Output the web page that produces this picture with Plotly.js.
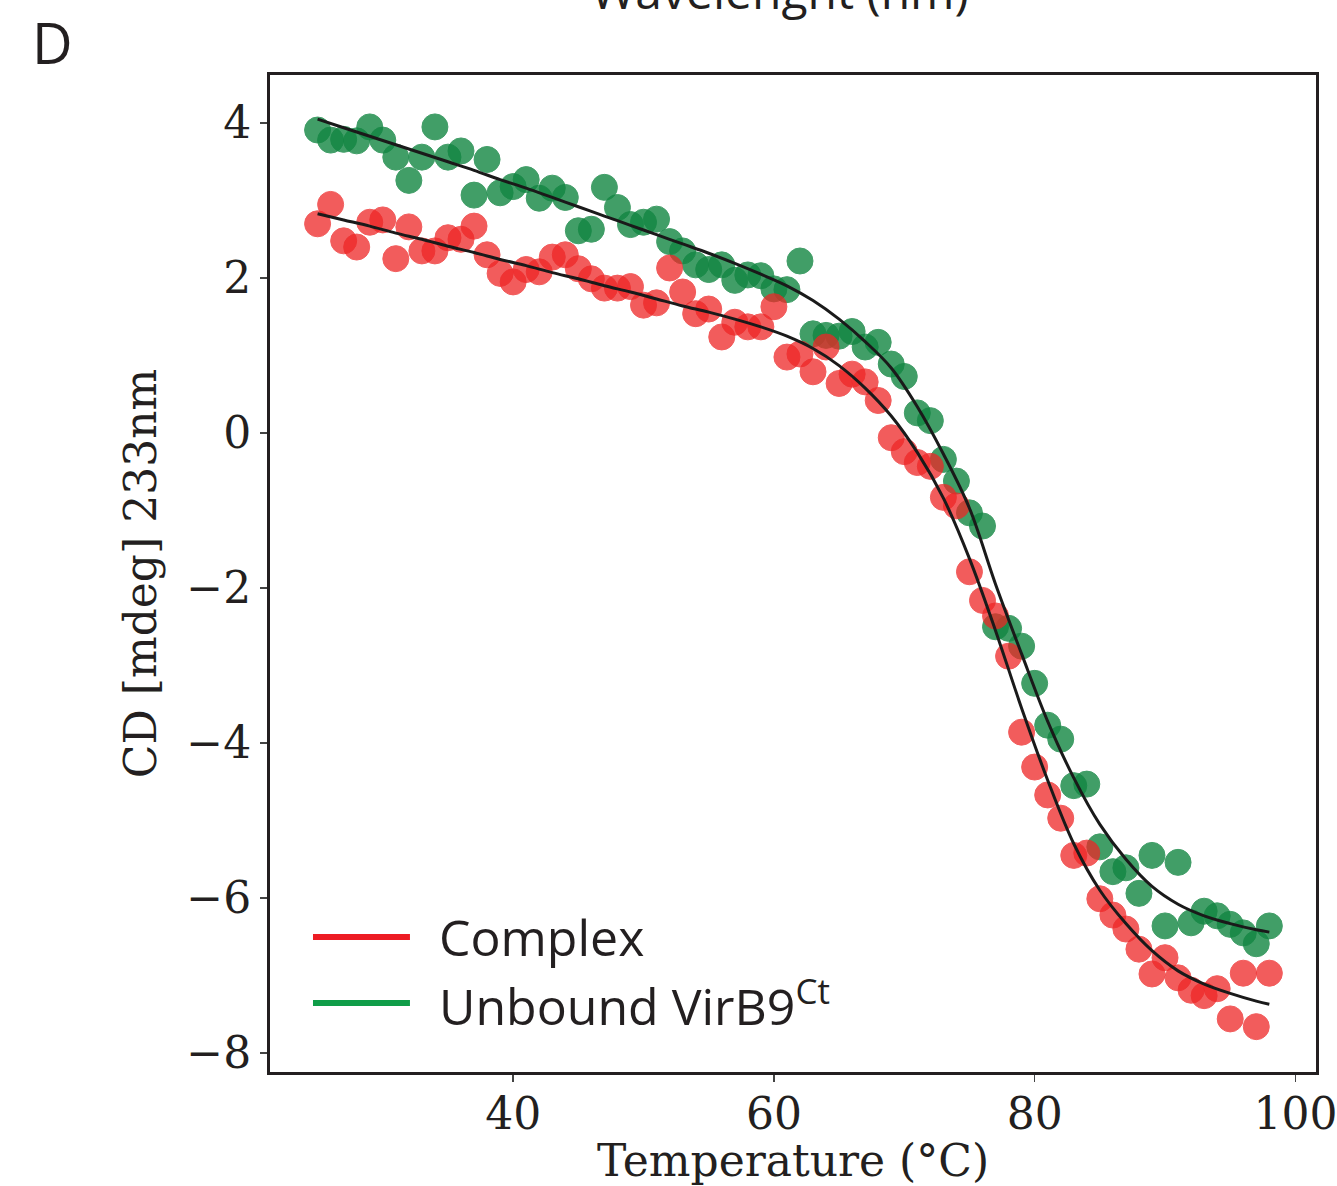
<!DOCTYPE html>
<html>
<head>
<meta charset="utf-8">
<script src="https://cdn.plot.ly/plotly-3.0.1.min.js"></script>
<style>
  html, body { margin: 0; padding: 0; background: #ffffff; }
  #chart { width: 1337px; height: 1186px; }
</style>
</head>
<body>
<div id="chart"></div>
<script>
// Temperatures (°C) of the measured points
const temperature = [25,26,27,28,29,30,31,32,33,34,35,36,37,38,39,40,41,42,43,44,45,46,47,48,49,50,51,52,53,54,55,56,57,58,59,60,61,62,63,64,65,66,67,68,69,70,71,72,73,74,75,76,77,78,79,80,81,82,83,84,85,86,87,88,89,90,91,92,93,94,95,96,97,98];

// Unbound VirB9Ct, CD [mdeg] at 233 nm
const unboundCD = [3.91,3.78,3.79,3.77,3.95,3.78,3.56,3.26,3.56,3.95,3.56,3.64,3.07,3.53,3.10,3.18,3.27,3.03,3.16,3.04,2.61,2.63,3.17,2.91,2.69,2.72,2.76,2.47,2.35,2.17,2.11,2.17,1.97,2.04,2.03,1.86,1.85,2.22,1.28,1.26,1.25,1.31,1.11,1.17,0.89,0.73,0.26,0.16,-0.34,-0.62,-1.03,-1.20,-2.50,-2.52,-2.75,-3.23,-3.77,-3.95,-4.55,-4.53,-5.34,-5.66,-5.61,-5.94,-5.45,-6.36,-5.54,-6.32,-6.17,-6.23,-6.34,-6.45,-6.59,-6.36];

// Complex, CD [mdeg] at 233 nm
const complexCD = [2.70,2.95,2.48,2.40,2.72,2.75,2.25,2.66,2.35,2.35,2.52,2.50,2.67,2.30,2.06,1.95,2.11,2.08,2.27,2.30,2.12,1.99,1.87,1.87,1.89,1.65,1.68,2.13,1.82,1.54,1.60,1.24,1.43,1.37,1.37,1.63,0.98,1.02,0.79,1.11,0.64,0.76,0.66,0.42,-0.06,-0.24,-0.38,-0.43,-0.83,-0.94,-1.79,-2.16,-2.36,-2.88,-3.86,-4.31,-4.67,-4.97,-5.45,-5.42,-6.01,-6.22,-6.40,-6.66,-6.98,-6.77,-7.03,-7.19,-7.26,-7.17,-7.56,-6.97,-7.66,-6.97];

// Fitted curves
const fitTemperature = [25,27,29,31,33,35,37,39,41,43,45,47,49,51,53,55,57,59,61,63,65,67,69,71,73,75,77,79,81,83,85,87,89,91,93,95,97,98];
const unboundFit = [4.05,3.94,3.83,3.72,3.61,3.50,3.39,3.27,3.16,3.04,2.92,2.80,2.68,2.56,2.44,2.32,2.19,2.05,1.90,1.71,1.47,1.18,0.84,0.34,-0.27,-0.97,-1.95,-2.85,-3.72,-4.45,-5.05,-5.50,-5.85,-6.08,-6.23,-6.33,-6.41,-6.44];
const complexFit = [2.83,2.75,2.67,2.58,2.50,2.41,2.33,2.24,2.16,2.07,1.99,1.90,1.82,1.73,1.64,1.56,1.47,1.37,1.25,1.09,0.87,0.58,0.22,-0.25,-0.84,-1.62,-2.55,-3.55,-4.48,-5.30,-5.90,-6.33,-6.68,-6.94,-7.11,-7.23,-7.33,-7.37];

// Tick labels
const xTicks = [40, 60, 80, 100];
const yTicks = [-8, -6, -4, -2, 0, 2, 4];
const yTickText = ['\u22128','\u22126','\u22124','\u22122','0','2','4'];

// Legend labels
const legendLabels = ['Complex', 'Unbound VirB9<sup>Ct</sup>'];
const legendColors = ['#ed1c24', '#0f9d48'];

const ink = '#231f20';
const serif = 'DejaVu Serif, Liberation Serif, serif';
const sans = 'Open Sans, Noto Sans, sans-serif';

const traces = [
  {
    x: temperature, y: unboundCD, type: 'scatter', mode: 'markers', name: 'Unbound VirB9Ct',
    marker: { size: 26, color: 'rgb(18,134,66)', opacity: 0.8, line: { color: 'rgb(18,134,66)', width: 1 } },
    showlegend: false, hoverinfo: 'skip'
  },
  {
    x: temperature, y: complexCD, type: 'scatter', mode: 'markers', name: 'Complex',
    marker: { size: 26, color: 'rgb(238,38,38)', opacity: 0.75, line: { color: 'rgb(238,38,38)', width: 1 } },
    showlegend: false, hoverinfo: 'skip'
  },
  {
    x: fitTemperature, y: unboundFit, type: 'scatter', mode: 'lines',
    line: { color: '#1a1a1a', width: 3, shape: 'spline', smoothing: 1 },
    showlegend: false, hoverinfo: 'skip'
  },
  {
    x: fitTemperature, y: complexFit, type: 'scatter', mode: 'lines',
    line: { color: '#1a1a1a', width: 3, shape: 'spline', smoothing: 1 },
    showlegend: false, hoverinfo: 'skip'
  }
];

const legendY = [0.1354, 0.0692];
const shapes = legendY.map((y, i) => ({
  type: 'line', xref: 'paper', yref: 'paper',
  x0: 0.0411, x1: 0.1338, y0: y, y1: y,
  line: { color: legendColors[i], width: 6 }
}));

const annotations = legendY.map((y, i) => ({
  xref: 'paper', yref: 'paper', x: 0.1597, y: y,
  xanchor: 'left', yanchor: 'middle', showarrow: false,
  text: legendLabels[i],
  font: { family: sans, size: 50, color: ink }
}));

annotations.push({
  xref: 'paper', yref: 'paper', x: -0.2084, y: 1.0331,
  xanchor: 'center', yanchor: 'middle', showarrow: false,
  text: 'D', font: { family: sans, size: 56, color: ink }
});
annotations.push({
  xref: 'paper', yref: 'paper', x: 0.4876, y: 1.050,
  xanchor: 'center', yanchor: 'bottom', showarrow: false,
  text: 'Wavelenght (nm)', font: { family: sans, size: 48, color: ink }
});

const layout = {
  width: 1337, height: 1186,
  margin: { l: 270, r: 21, t: 75, b: 114 },
  paper_bgcolor: '#ffffff', plot_bgcolor: '#ffffff',
  showlegend: false,
  xaxis: {
    range: [21.35, 101.58],
    tickmode: 'array', tickvals: xTicks, ticktext: xTicks.map(String),
    ticks: 'outside', ticklen: 7, tickwidth: 1.5, tickcolor: '#444',
    ticklabeloverflow: 'allow', ticklabelstandoff: -6,
    showline: true, mirror: true, linecolor: ink, linewidth: 3,
    showgrid: false, zeroline: false,
    tickfont: { family: serif, size: 44, color: ink },
    title: { text: 'Temperature (°C)', font: { family: serif, size: 44, color: ink }, standoff: 8 }
  },
  yaxis: {
    range: [-8.245, 4.62],
    tickmode: 'array', tickvals: yTicks, ticktext: yTickText,
    ticks: 'outside', ticklen: 7, tickwidth: 1.5, tickcolor: '#444',
    showline: true, mirror: true, linecolor: ink, linewidth: 3,
    showgrid: false, zeroline: false,
    tickfont: { family: serif, size: 44, color: ink },
    title: { text: 'CD [mdeg] 233nm', font: { family: serif, size: 44, color: ink }, standoff: 16 }
  },
  shapes: shapes,
  annotations: annotations
};

Plotly.newPlot('chart', traces, layout, { staticPlot: true, displayModeBar: false });
</script>
</body>
</html>
